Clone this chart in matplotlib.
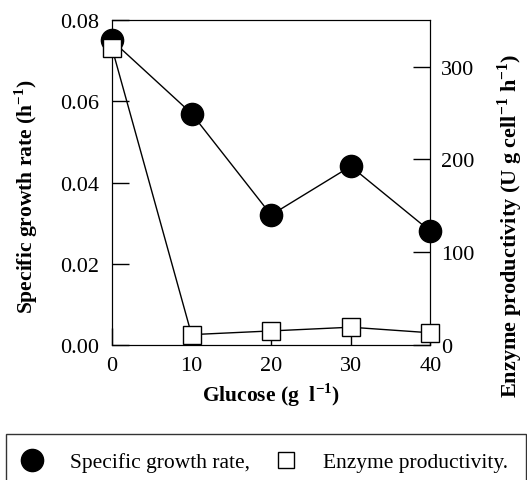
import matplotlib
matplotlib.use("Agg")
import matplotlib.pyplot as plt
from matplotlib.lines import Line2D

glucose = [0, 10, 20, 30, 40]
growth_rate = [0.075, 0.057, 0.032, 0.044, 0.028]
productivity = [320, 11, 15, 19, 13]

plt.rcParams['font.family'] = ['Liberation Serif', 'DejaVu Serif']
plt.rcParams['mathtext.fontset'] = 'custom'
plt.rcParams['mathtext.rm'] = 'Liberation Serif'
plt.rcParams['mathtext.bf'] = 'Liberation Serif:bold'

fig = plt.figure(figsize=(5.27, 4.81), dpi=100)
ax = fig.add_axes([0.2125, 0.281, 0.604, 0.675])
ax2 = ax.twinx()

ax.plot(glucose, growth_rate, color='black', lw=1, marker='o', ms=16,
        mfc='black', mec='black', clip_on=False, zorder=3)
ax2.plot(glucose, productivity, color='black', lw=1, marker='s', ms=13,
         mfc='white', mec='black', mew=1, clip_on=False, zorder=3)

ax.set_xlim(0, 40)
ax.set_ylim(0, 0.08)
ax2.set_ylim(0, 350)
ax.set_xticks([0, 10, 20, 30, 40])
ax.set_yticks([0, 0.02, 0.04, 0.06, 0.08])
ax.set_yticklabels(['0.00', '0.02', '0.04', '0.06', '0.08'])
ax2.set_yticks([0, 100, 200, 300])

ax.tick_params(axis='both', direction='in', length=12, labelsize=16, width=1)
ax.tick_params(axis='x', pad=8)
ax.tick_params(axis='y', pad=9)
ax2.tick_params(axis='y', direction='in', length=12, labelsize=16, width=1, pad=8)

ax.set_xlabel(r'Glucose (g  l$^{\mathbf{-1}}$)', fontsize=15.5, fontweight='bold',
              labelpad=4)
ax.set_ylabel(r'Specific growth rate (h$^{\mathbf{-1}}$)', fontsize=15.5,
              fontweight='bold')
ax2.set_ylabel(r'Enzyme productivity (U g cell$^{\mathbf{-1}}$ h$^{\mathbf{-1}}$)',
               fontsize=16, fontweight='bold')
ax.yaxis.set_label_coords(-0.227, 0.46)
ax2.yaxis.set_label_coords(1.205, 0.37)

handles = [
    Line2D([], [], ls='none', marker='o', ms=16, mfc='black', mec='black'),
    Line2D([], [], ls='none', marker='s', ms=11, mfc='white', mec='black'),
]
labels = ['Specific growth rate,', 'Enzyme productivity.']
leg = fig.legend(handles, labels, ncol=2, loc='upper left',
                 bbox_to_anchor=(6 / 527, 1 - 435 / 481), fontsize=15.5,
                 frameon=True, fancybox=False, edgecolor='black',
                 handlelength=0.75, handletextpad=1.35, columnspacing=1.3,
                 borderpad=0.85, borderaxespad=0)
leg.get_frame().set_linewidth(1)

fig.savefig('out.png', dpi=100)
